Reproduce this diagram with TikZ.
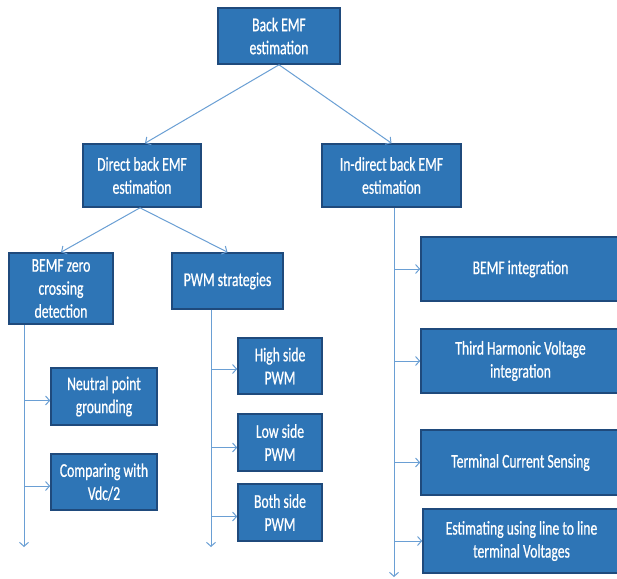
\documentclass[tikz,border=0pt]{standalone}
\usepackage{fontspec}
\setmainfont[FakeStretch=0.7,FakeBold=0.6]{Carlito}
\usetikzlibrary{arrows.meta}
\definecolor{boxfill}{HTML}{2E75B6}
\definecolor{boxline}{HTML}{1F4A7C}
\definecolor{connline}{HTML}{6A9FD4}
\tikzset{
  box/.style={draw=boxline, line width=1.6pt, fill=boxfill, text=white, align=center,
    inner sep=0pt, font=\fontsize{19.5}{23}\selectfont},
  conn/.style={draw=connline, line width=1pt, -{Straight Barb[length=4pt,width=9pt]}},
}
\begin{document}
\begin{tikzpicture}[x=1pt,y=-1pt]
\useasboundingbox (0,0) rectangle (617,578);
\clip (0,0) rectangle (617,578);
\fill[white] (0,0) rectangle (617,578);
% boxes
\node[box, minimum width=122pt, minimum height=56pt] (back) at (279,36) {Back EMF\\estimation};
\node[box, minimum width=118pt, minimum height=63pt] (direct) at (142,175.5) {Direct back EMF\\estimation};
\node[box, minimum width=139pt, minimum height=63pt] (indirect) at (391.5,175.5) {In-direct back EMF\\estimation};
\node[box, minimum width=104pt, minimum height=71pt] (bemfz) at (61,288.5) {BEMF zero\\crossing\\detection};
\node[box, minimum width=111pt, minimum height=56pt] (pwms) at (227.5,281) {PWM strategies};
\node[box, minimum width=106pt, minimum height=57pt] (neutral) at (104,396.5) {Neutral point\\grounding};
\node[box, minimum width=106pt, minimum height=56pt] (comparing) at (104,482) {Comparing with\\Vdc/2};
\node[box, minimum width=84pt, minimum height=56pt] (high) at (280,366) {High side\\PWM};
\node[box, minimum width=84pt, minimum height=57pt] (low) at (280,442.5) {Low side\\PWM};
\node[box, minimum width=84pt, minimum height=57pt] (both) at (280,512.5) {Both side\\PWM};
\node[box, minimum width=199pt, minimum height=64pt] (bemfint) at (520.5,269) {BEMF integration};
\node[box, minimum width=199pt, minimum height=64pt] (third) at (520.5,361) {Third Harmonic Voltage\\integration};
\node[box, minimum width=199pt, minimum height=65pt] (terminal) at (520.5,462.5) {Terminal Current Sensing};
\node[box, minimum width=197pt, minimum height=64pt] (estim) at (521.5,541) {Estimating using line to line\\terminal Voltages};
% tree connectors
\draw[conn] (back.south) -- ([xshift=3pt]direct.north);
\draw[conn] (back.south) -- (indirect.north);
\draw[conn] ([xshift=-2pt]direct.south) -- (bemfz.north);
\draw[conn] ([xshift=-2pt]direct.south) -- (pwms.north);
% vertical buses
\coordinate (vz) at (24,547);
\coordinate (vp) at (211,547);
\coordinate (vi) at (394,577);
\draw[conn] (bemfz.south -| vz) -- (vz);
\draw[conn] (pwms.south -| vp) -- (vp);
\draw[conn] (indirect.south -| vi) -- (vi);
% branch arrows
\draw[conn] ([yshift=-4pt]neutral.west -| vz) -- ([yshift=-4pt]neutral.west);
\draw[conn] ([yshift=-4pt]comparing.west -| vz) -- ([yshift=-4pt]comparing.west);
\draw[conn] ([yshift=-3pt]high.west -| vp) -- ([yshift=-3pt]high.west);
\draw[conn] ([yshift=-5pt]low.west -| vp) -- ([yshift=-5pt]low.west);
\draw[conn] ([yshift=-4pt]both.west -| vp) -- ([yshift=-4pt]both.west);
\draw[conn] (bemfint.west -| vi) -- (bemfint.west);
\draw[conn] (third.west -| vi) -- (third.west);
\draw[conn] (terminal.west -| vi) -- (terminal.west);
\draw[conn] (estim.west -| vi) -- (estim.west);
\end{tikzpicture}
\end{document}
